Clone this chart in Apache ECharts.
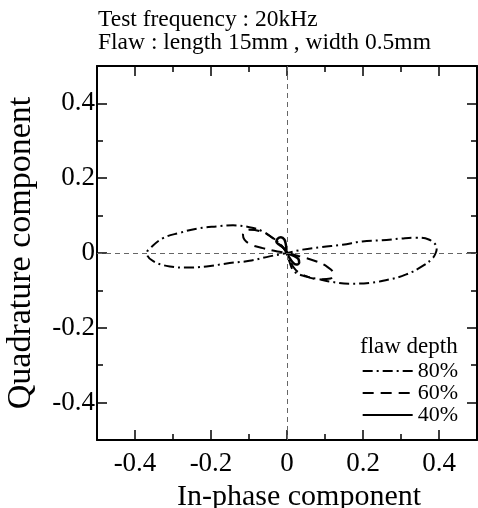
<!DOCTYPE html>
<html>
<head>
<meta charset="utf-8">
<script src="https://cdn.jsdelivr.net/npm/echarts@6/dist/echarts.min.js"></script>
<style>
html,body{margin:0;padding:0;background:#fff;}
#chart{width:478px;height:508px;}
</style>
</head>
<body>
<div id="chart"></div>
<script>
// flaw depth 80% (dash-dot)
var x80 = [0, -0.016, -0.038, -0.064, -0.099, -0.142, -0.186, -0.238, -0.282, -0.326, -0.36, -0.369, -0.352, -0.308, -0.264, -0.212, -0.151, -0.099, -0.046, 0,
  0.041, 0.093, 0.146, 0.198, 0.25, 0.303, 0.338, 0.373, 0.394, 0.392, 0.384, 0.355, 0.312, 0.268, 0.216, 0.163, 0.111, 0.085, 0.05, 0.019, 0.006, 0];
var y80 = [0, 0.022, 0.040, 0.058, 0.069, 0.074, 0.071, 0.065, 0.054, 0.040, 0.013, 0, -0.022, -0.036, -0.039, -0.036, -0.027, -0.021, -0.009, 0,
  0.009, 0.016, 0.022, 0.031, 0.034, 0.039, 0.041, 0.036, 0.013, 0.002, -0.013, -0.036, -0.058, -0.071, -0.08, -0.082, -0.076, -0.07, -0.063, -0.049, -0.022, 0];
// flaw depth 60% (dashed)
var x60 = [0, -0.03, -0.07, -0.1, -0.116, -0.112, -0.094, -0.064, -0.025, 0, 0.03, 0.076, 0.106, 0.122, 0.115, 0.085, 0.05, 0.02, 0];
var y60 = [0, 0.035, 0.058, 0.062, 0.05, 0.036, 0.022, 0.013, 0.004, 0, -0.008, -0.022, -0.037, -0.055, -0.068, -0.07, -0.062, -0.042, 0];
// flaw depth 40% (solid)
var x40 = [0, -0.008, -0.02, -0.028, -0.025, -0.016, -0.007, -0.003, 0, 0.006, 0.015, 0.024, 0.032, 0.03, 0.018, 0];
var y40 = [0, 0.012, 0.022, 0.03, 0.038, 0.042, 0.036, 0.022, 0, -0.012, -0.025, -0.031, -0.026, -0.016, -0.008, 0];

var majorTicks = [-0.4, -0.2, 0, 0.2, 0.4];
var depthNames = ['80%', '60%', '40%'];

function zip(xs, ys) {
  return xs.map(function (v, i) { return [v, ys[i]]; });
}

var serif = '"Liberation Serif", "DejaVu Serif", serif';

// short ticks every 0.1 on the frame
function minorAxis(pos, labels) {
  return {
    type: 'value', gridIndex: 0, position: pos, min: -0.5, max: 0.5, interval: 0.1,
    axisLine: { show: true, onZero: false, lineStyle: { color: '#000', width: 2 } },
    axisTick: { show: true, inside: true, length: 6, lineStyle: { color: '#000', width: 1.5 } },
    axisLabel: labels ? {
      show: true, customValues: majorTicks, color: '#000', fontFamily: serif, fontSize: 27,
      margin: (pos === 'left' ? 2 : 10)
    } : { show: false },
    splitLine: { show: false }
  };
}
// long ticks at the labelled values
function majorAxis(pos) {
  return {
    type: 'value', gridIndex: 1, position: pos, min: -0.5, max: 0.5,
    axisLine: { show: false, onZero: false },
    axisTick: { show: true, inside: true, length: 10, customValues: majorTicks, lineStyle: { color: '#000', width: 1.5 } },
    axisLabel: { show: false },
    splitLine: { show: false }
  };
}

var xBottom = minorAxis('bottom', true);
xBottom.name = 'In-phase component';
xBottom.nameLocation = 'middle';
xBottom.nameGap = 38;
xBottom.nameTextStyle = { color: '#000', fontFamily: serif, fontSize: 30, padding: [0, 0, 0, 24] };
var yLeft = minorAxis('left', true);
yLeft.name = 'Quadrature component';
yLeft.nameLocation = 'middle';
yLeft.nameGap = 59;
yLeft.nameTextStyle = { color: '#000', fontFamily: serif, fontSize: 34 };

var chart = echarts.init(document.getElementById('chart'));
chart.setOption({
  animation: false,
  backgroundColor: '#fff',
  color: ['#000', '#000', '#000'],
  title: {
    text: 'Test frequency : 20kHz\nFlaw : length 15mm , width 0.5mm',
    left: 98, top: 8, padding: 0,
    textStyle: { color: '#000', fontFamily: serif, fontSize: 23.5, fontWeight: 'normal', lineHeight: 23 }
  },
  graphic: [{
    type: 'text', left: 360, top: 335,
    style: { text: 'flaw depth', fill: '#000', font: '23px "Liberation Serif"' }
  }],
  legend: {
    data: depthNames, orient: 'vertical', right: 20, top: 360, padding: 0,
    itemWidth: 50, itemHeight: 12, itemGap: 0,
    itemStyle: { opacity: 0 },
    textStyle: { color: '#000', fontFamily: serif, fontSize: 22 }
  },
  grid: [
    { left: 97, right: 1, top: 66, bottom: 68, containLabel: false, outerBoundsMode: 'none' },
    { left: 97, right: 1, top: 66, bottom: 68, containLabel: false, outerBoundsMode: 'none' }
  ],
  xAxis: [xBottom, minorAxis('top', false), majorAxis('bottom'), majorAxis('top')],
  yAxis: [yLeft, minorAxis('right', false), majorAxis('left'), majorAxis('right')],
  series: [
    {
      name: '80%', type: 'line', data: zip(x80, y80), smooth: 0.4, symbol: 'none',
      lineStyle: { color: '#000', width: 2, type: [10, 4, 2, 4] },
      markLine: {
        silent: true, symbol: ['none', 'none'], label: { show: false },
        lineStyle: { color: '#666', width: 1, type: [5, 4] },
        data: [{ xAxis: 0 }, { yAxis: 0 }]
      }
    },
    {
      name: '60%', type: 'line', data: zip(x60, y60), smooth: 0.4, symbol: 'none',
      lineStyle: { color: '#000', width: 2, type: [11, 7] }
    },
    {
      name: '40%', type: 'line', data: zip(x40, y40), smooth: 0.4, symbol: 'none',
      lineStyle: { color: '#000', width: 2.5, type: 'solid' }
    }
  ]
});
</script>
</body>
</html>
